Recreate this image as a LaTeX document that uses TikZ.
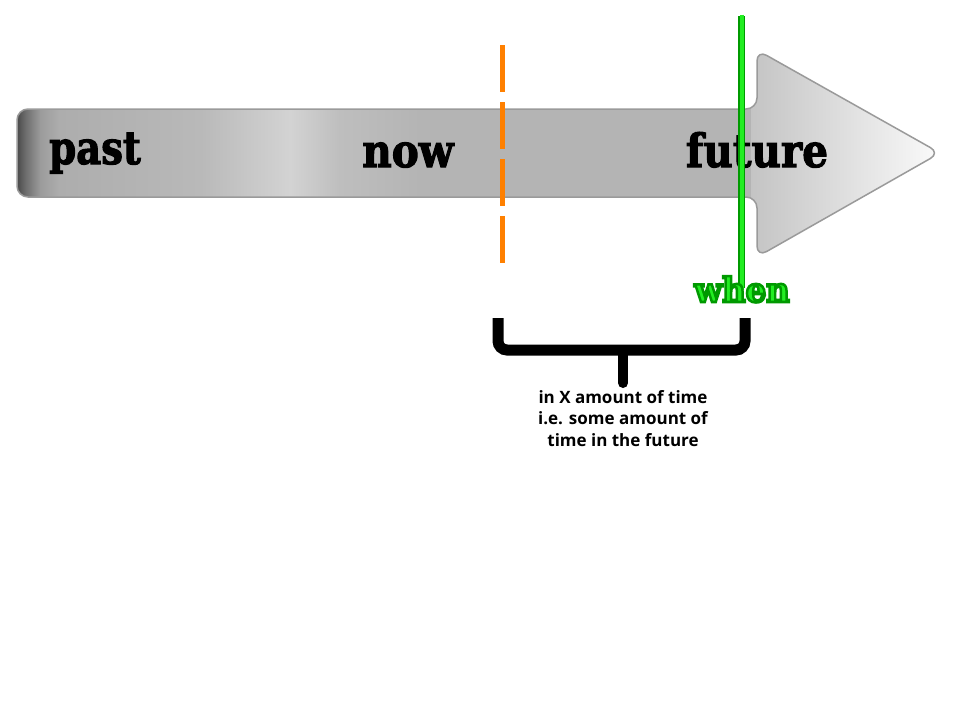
\documentclass[tikz,border=0pt]{standalone}
\usepackage{fontspec}
\newfontfamily\heavyfont{DejaVu Serif}[BoldFeatures={FakeBold=2.5}]
\newfontfamily\whenfont{DejaVu Serif}
\newfontfamily\labelfont{Open Sans}
\definecolor{sa}{HTML}{4A4A4A}
\definecolor{sb}{HTML}{6E6E6E}
\definecolor{sc}{HTML}{9C9C9C}
\definecolor{sd}{HTML}{ADADAD}
\definecolor{se}{HTML}{B9B9B9}
\definecolor{sf}{HTML}{D3D3D3}
\definecolor{sg}{HTML}{BEBEBE}
\definecolor{sh}{HTML}{B4B4B4}
\definecolor{headl}{HTML}{C4C4C4}
\definecolor{headr}{HTML}{FBFBFB}
\definecolor{edgegray}{HTML}{9A9A9A}
\definecolor{nowline}{HTML}{FF8000}
\definecolor{whenfill}{HTML}{22EE22}
\definecolor{whenedge}{HTML}{009A00}
\pgfdeclarehorizontalshading{shaftshade}{100bp}{color(0bp)=(sa); color(25bp)=(sa); color(25.6bp)=(sb); color(26.6bp)=(sc); color(27.9bp)=(sd); color(37.5bp)=(se); color(43.6bp)=(sf); color(47bp)=(sg); color(52.5bp)=(sh); color(75bp)=(sh); color(100bp)=(sh)}
\tikzset{
  bigword/.style={font=\heavyfont\bfseries\fontsize{46}{50}\selectfont, anchor=base, inner sep=0pt},
  whenword/.style={font=\whenfont\bfseries\fontsize{34}{38}\selectfont, anchor=base, inner sep=0pt},
  bracepart/.style={line width=11pt, black, rounded corners=9pt},
  notetext/.style={font=\labelfont\bfseries\fontsize{17}{21.5}\selectfont, align=center, anchor=north, inner sep=0pt}
}
\begin{document}
\begin{tikzpicture}[x=1pt,y=-1pt]
\useasboundingbox (0,0) rectangle (960,720);
\fill[white] (0,0) rectangle (960,720);
% arrow body
\begin{scope}
  \clip[rounded corners=11pt] (17,109) -- (757,109) -- (757,50) -- (940,153) -- (757,257) -- (757,197) -- (17,197) -- cycle;
  \shade[shading=shaftshade] (17,100) rectangle (751,205);
  \shade[left color=headl, right color=headr] (751,45) rectangle (942,262);
\end{scope}
\draw[edgegray, line width=1.5pt, rounded corners=11pt] (17,109) -- (757,109) -- (757,50) -- (940,153) -- (757,257) -- (757,197) -- (17,197) -- cycle;
% words
\node[bigword] (past) at (95,164) {\scalebox{0.84}[1]{past}};
\node[bigword] (now) at (408,167) {\scalebox{0.88}[1]{now}};
\node[bigword] (future) at (757,167) {\scalebox{0.88}[1]{future}};
% now line
\coordinate (nowtop) at (502,45);
\coordinate (nowbot) at (502,263);
\draw[nowline, line width=5pt, dash pattern=on 47pt off 10pt] (nowtop) -- (nowbot);
% when line
\coordinate (whentop) at (741.5,16);
\coordinate (whenbot) at (741.5,288);
\draw[whenedge, line width=7pt] (whentop) -- (whenbot);
\draw[whenfill, line width=4pt] ([yshift=1.5pt]whentop) -- ([yshift=-1.5pt]whenbot);
% when label with outline
\node[whenword, whenfill] (when) at (742,302) {\scalebox{0.95}[1]{\special{pdf:code 2 Tr 2.6 w 0 0.6 0 RG}when\special{pdf:code 0 Tr}}};
% brace
\coordinate (bl) at (498,318);
\coordinate (br) at (745,318);
\coordinate (bm) at (623,350);
\coordinate (bs) at (623,383);
\draw[bracepart] (bl) -- (498,350) -- (745,350) -- (br);
\draw[line width=10pt, line cap=round] (bm) -- (bs);
\node[notetext] (note) at (623,390) {in X amount of time\\i.e. some amount of\\time in the future};
\end{tikzpicture}
\end{document}
